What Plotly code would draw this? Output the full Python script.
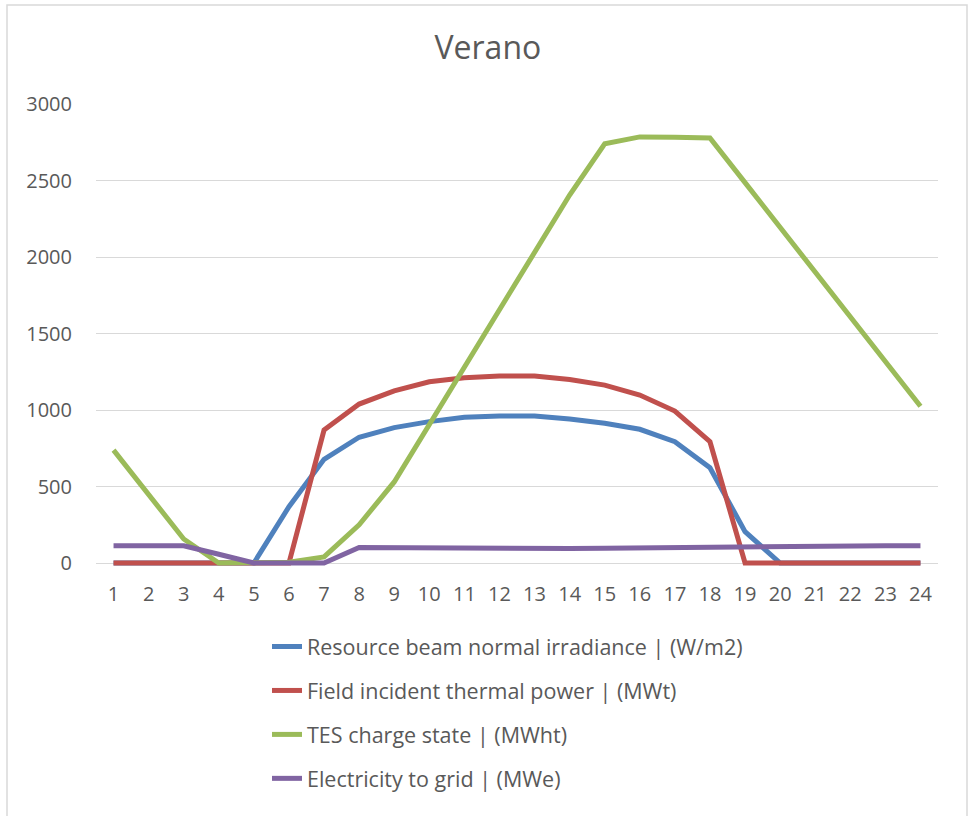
import plotly.graph_objects as go

# Hourly profile for a summer day (hours 1-24)
hours = list(range(1, 25))

irradiance = [0, 0, 0, 0, 0, 368, 678, 822, 885, 924, 952, 961,
              961, 941, 913, 874, 793, 623, 205, 0, 0, 0, 0, 0]
thermal_power = [0, 0, 0, 0, 0, 0, 869, 1039, 1125, 1185, 1211, 1222,
                 1222, 1200, 1163, 1098, 993, 793, 0, 0, 0, 0, 0, 0]
tes_charge = [738, 450, 157, 0, 0, 5, 40, 250, 530, 905, 1275, 1655,
              2035, 2405, 2740, 2785, 2782, 2778, 2486, 2194, 1902, 1610, 1318, 1025]
grid_power = [113, 113, 113, 57, 0, 0, 0, 102, 100, 97, 95, 95,
              95, 95, 97, 100, 102, 103, 105, 108, 110, 112, 113, 113]

series_names = [
    "Resource beam normal irradiance | (W/m2)",
    "Field incident thermal power | (MWt)",
    "TES charge state | (MWht)",
    "Electricity to grid | (MWe)",
]
series_values = [irradiance, thermal_power, tes_charge, grid_power]
series_colors = ["#4F81BD", "#C0504D", "#9BBB59", "#8064A2"]

y_ticks = [0, 500, 1000, 1500, 2000, 2500, 3000]

FONT = "Open Sans"
TEXT_COLOR = "#595959"

# Plot box: 3000 at y=104 px, 0 at y=563 px; a few extra px below zero
# so the zero-valued lines are not cut in half by the plot clip.
PX_PER_UNIT = 459 / 3000
Y_PAD = 26
y_bottom_px = 563 + Y_PAD * PX_PER_UNIT

fig = go.Figure()
for i, (name, vals, color) in enumerate(zip(series_names, series_values, series_colors)):
    fig.add_trace(go.Scatter(
        x=hours, y=vals, name=name, mode="lines",
        line=dict(color=color, width=5),
        legendgroup=f"g{i}",
    ))

plot_h = y_bottom_px - 104
fig.update_layout(
    width=968, height=816,
    margin=dict(l=96, r=30, t=104, b=816 - y_bottom_px),
    paper_bgcolor="white", plot_bgcolor="white",
    font=dict(family=FONT, color=TEXT_COLOR, size=20),
    title=dict(text="Verano", x=0.504, xanchor="center", y=0.941, yanchor="middle",
               font=dict(family=FONT, size=32, color=TEXT_COLOR)),
    showlegend=True,
    legend=dict(
        orientation="v", x=(267 - 96) / 842, xanchor="left",
        y=(y_bottom_px - 626) / plot_h, yanchor="top",
        font=dict(family=FONT, size=21.5, color=TEXT_COLOR),
        tracegroupgap=13, bgcolor="rgba(0,0,0,0)",
    ),
)

fig.update_xaxes(
    type="linear", range=[0.5, 24.5], tickmode="array",
    tickvals=hours, ticktext=[str(h) for h in hours],
    showgrid=False, zeroline=False, showline=False,
    ticks="outside", ticklen=9, tickcolor="white",
    tickfont=dict(family=FONT, size=20, color=TEXT_COLOR),
)
fig.update_yaxes(
    range=[-Y_PAD, 3000], tickmode="array", tickvals=y_ticks,
    ticktext=[str(v) for v in y_ticks],
    showgrid=True, gridcolor="#D9D9D9", gridwidth=1,
    zeroline=False, showline=False, ticks="outside", ticklen=19, tickcolor="white",
    tickfont=dict(family=FONT, size=20, color=TEXT_COLOR),
)

# Light chart-area frame
fig.add_shape(type="rect", xref="paper", yref="paper",
              x0=(7 - 96) / 842, x1=(967 - 96) / 842,
              y0=(y_bottom_px - 830) / plot_h, y1=(y_bottom_px - 5) / plot_h,
              line=dict(color="#D9D9D9", width=1.5), fillcolor="rgba(0,0,0,0)",
              layer="below")

fig.write_html("out.html")
